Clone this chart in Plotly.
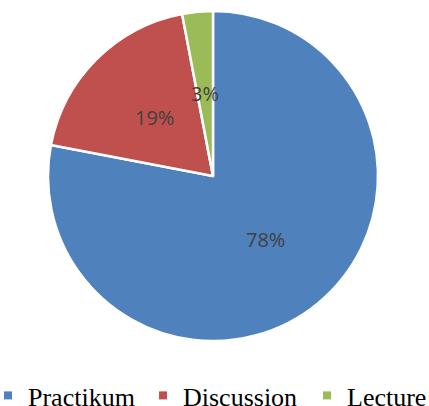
import math
import plotly.graph_objects as go

labels = ["Practikum", "Discussion", "Lecture"]
values = [78, 19, 3]
colors = ["#4F81BD", "#C0504D", "#9BBB59"]

W, H = 429, 406
cx, cy, r = 213, 176, 165

fig = go.Figure(go.Pie(
    labels=labels, values=values, sort=False, direction="clockwise", rotation=0,
    marker=dict(colors=colors, line=dict(color="white", width=2.5)),
    textinfo="none", hoverinfo="label+percent", showlegend=False,
    domain=dict(x=[(cx - r) / W, (cx + r) / W], y=[1 - (cy + r) / H, 1 - (cy - r) / H]),
))

# data labels at half radius along each slice's mid angle
total = sum(values)
cum = 0
for v in values:
    mid = (cum + v / 2) / total * 2 * math.pi
    cum += v
    px = cx + 0.5 * r * math.sin(mid)
    py = cy - 0.5 * r * math.cos(mid)
    fig.add_annotation(x=px / W, y=1 - py / H, xref="paper", yref="paper",
                       xanchor="center", yanchor="middle",
                       text=f"{round(v / total * 100)}%", showarrow=False,
                       font=dict(family="Open Sans", size=20, color="#404040"))

# legend: one entry per slice, each in its own legend box so the row fits
legend_text_x = [28, 183, 347]
legend_font = dict(family="Liberation Serif", size=26, color="black")
layout_legends = {}
for i, (lab, col) in enumerate(zip(labels, colors)):
    key = "legend" if i == 0 else f"legend{i + 1}"
    fig.add_trace(go.Scatter(x=[None], y=[None], mode="markers", name=lab,
                             marker=dict(symbol="square", size=8, color=col),
                             legend=key, hoverinfo="skip"))
    layout_legends[key] = dict(x=(legend_text_x[i] - 40) / W, xanchor="left",
                               y=-0.032, yanchor="bottom", xref="paper", yref="paper",
                               orientation="h", font=legend_font,
                               bgcolor="rgba(0,0,0,0)", itemwidth=30)

fig.update_layout(
    width=W, height=H, margin=dict(l=0, r=0, t=0, b=0, autoexpand=False),
    paper_bgcolor="white", plot_bgcolor="white",
    showlegend=True,
    xaxis=dict(visible=False), yaxis=dict(visible=False),
    **layout_legends,
)
fig.write_html("out.html")
